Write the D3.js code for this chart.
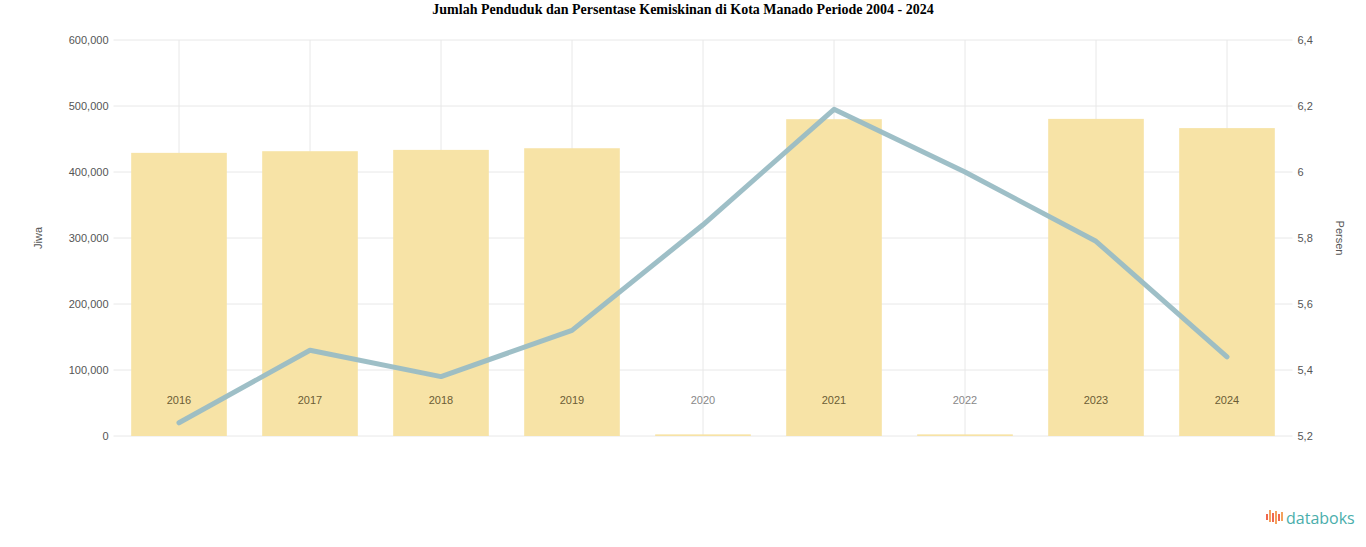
<!DOCTYPE html>
<html>
<head>
<meta charset="utf-8">
<script src="https://cdn.jsdelivr.net/npm/d3@7"></script>
<style>
  html, body { margin: 0; padding: 0; background: #fff; }
  svg { display: block; }
</style>
</head>
<body>
<svg id="chart" width="1366" height="547"></svg>
<script>
const title = "Jumlah Penduduk dan Persentase Kemiskinan di Kota Manado Periode 2004 - 2024";
const categories = ["2016", "2017", "2018", "2019", "2020", "2021", "2022", "2023", "2024"];
const penduduk = [429000, 431500, 433500, 436000, 2500, 480000, 2500, 480500, 466500];
const kemiskinan = [5.24, 5.46, 5.38, 5.52, 5.84, 6.19, 6.00, 5.79, 5.44];
const leftTicks = [0, 100000, 200000, 300000, 400000, 500000, 600000];
const rightTicks = [5.2, 5.4, 5.6, 5.8, 6.0, 6.2, 6.4];
const leftLabel = "Jiwa";
const rightLabel = "Persen";

const svg = d3.select("#chart");
const W = 1366, H = 547;
const plot = { left: 113.5, right: 1292.5, top: 40, bottom: 436 };

svg.append("text")
  .attr("x", W / 2).attr("y", 14)
  .attr("text-anchor", "middle")
  .attr("font-family", "'Liberation Serif', 'Times New Roman', serif")
  .attr("font-weight", "bold")
  .attr("font-size", 14)
  .attr("fill", "#000")
  .text(title);

const x = d3.scaleBand().domain(categories).range([plot.left, plot.right]).paddingInner(0.27).paddingOuter(0.135);
const xc = d => x(d) + x.bandwidth() / 2;
const yL = d3.scaleLinear().domain([0, 600000]).range([plot.bottom, plot.top]);
const yR = d3.scaleLinear().domain([5.2, 6.4]).range([plot.bottom, plot.top]);

// grid
const grid = svg.append("g");
grid.selectAll("line.h").data(leftTicks).join("line")
  .attr("x1", plot.left).attr("x2", plot.right)
  .attr("y1", d => yL(d)).attr("y2", d => yL(d))
  .attr("stroke", "#e8e8e8").attr("stroke-width", 1);
grid.selectAll("line.v").data(categories).join("line")
  .attr("x1", d => xc(d)).attr("x2", d => xc(d))
  .attr("y1", plot.top).attr("y2", plot.bottom)
  .attr("stroke", "#e8e8e8").attr("stroke-width", 1);

// left axis
const axL = svg.append("g").attr("transform", `translate(${plot.left - 5},0)`)
  .call(d3.axisLeft(yL).tickValues(leftTicks).tickSize(0).tickPadding(0).tickFormat(d3.format(",")));
axL.select(".domain").remove();
axL.selectAll("text").attr("font-family", "'Liberation Sans', Arial, sans-serif").attr("font-size", 11).attr("fill", "#555");

// right axis
const axR = svg.append("g").attr("transform", `translate(${plot.right + 5},0)`)
  .call(d3.axisRight(yR).tickValues(rightTicks).tickSize(0).tickPadding(0)
    .tickFormat(d => (Math.round(d * 10) / 10).toString().replace(".", ",")));
axR.select(".domain").remove();
axR.selectAll("text").attr("font-family", "'Liberation Sans', Arial, sans-serif").attr("font-size", 11).attr("fill", "#555");

svg.append("text")
  .attr("transform", `translate(42,${(plot.top + plot.bottom) / 2}) rotate(-90)`)
  .attr("text-anchor", "middle")
  .attr("font-family", "'Liberation Sans', Arial, sans-serif")
  .attr("font-size", 11).attr("fill", "#555")
  .text(leftLabel);
svg.append("text")
  .attr("transform", `translate(1336,${(plot.top + plot.bottom) / 2}) rotate(90)`)
  .attr("text-anchor", "middle")
  .attr("font-family", "'Liberation Sans', Arial, sans-serif")
  .attr("font-size", 11).attr("fill", "#555")
  .text(rightLabel);

// bars
svg.append("g").selectAll("rect").data(categories).join("rect")
  .attr("x", d => x(d))
  .attr("width", x.bandwidth())
  .attr("y", (d, i) => yL(penduduk[i]))
  .attr("height", (d, i) => yL(0) - yL(penduduk[i]))
  .attr("fill", "#f7e3a6");

// category labels inside
svg.append("g").selectAll("text").data(categories).join("text")
  .attr("x", d => xc(d)).attr("y", 404)
  .attr("text-anchor", "middle")
  .attr("font-family", "'Liberation Sans', Arial, sans-serif")
  .attr("font-size", 11)
  .attr("fill", (d, i) => penduduk[i] > 100000 ? "#6b5d35" : "#888")
  .text(d => d);

// line
const line = d3.line().x((d, i) => xc(categories[i])).y(d => yR(d));
svg.append("path")
  .datum(kemiskinan)
  .attr("d", line)
  .attr("fill", "none")
  .attr("stroke", "#99bcc4")
  .attr("stroke-width", 5)
  .attr("stroke-linejoin", "round")
  .attr("stroke-linecap", "round")
  .attr("opacity", 0.95);

// logo
const logo = svg.append("g").attr("transform", "translate(1266,510)");
const bars = [[0, 4, 6, "#f0684f"], [3, 0, 12, "#f4a15c"], [6, 3, 9, "#f0684f"], [9, 1, 13, "#f4a15c"], [12, 4, 7, "#f0684f"], [15, 2, 9, "#f4a15c"]];
logo.selectAll("rect").data(bars).join("rect")
  .attr("x", d => d[0]).attr("y", d => d[1]).attr("width", 2).attr("height", d => d[2]).attr("fill", d => d[3]);
logo.append("text").attr("x", 20).attr("y", 14)
  .attr("font-family", "'Open Sans', 'Noto Sans', sans-serif")
  .attr("font-size", 16).attr("fill", "#4aaeab")
  .text("databoks");
</script>
</body>
</html>
